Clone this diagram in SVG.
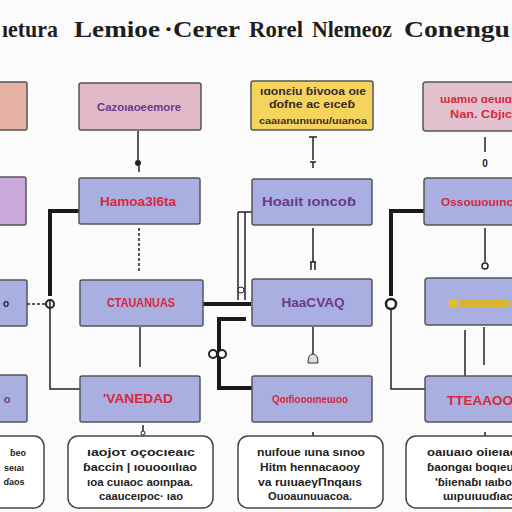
<svg xmlns="http://www.w3.org/2000/svg" width="512" height="512" viewBox="0 0 512 512">
<defs>
<style>
.box{stroke:#555;stroke-width:1.5}
.pink{fill:#e2b9c9}
.salmon{fill:#e6b2a4}
.yellow{fill:#f4d45c}
.rose{fill:#e3c2d0}
.lav{fill:#c9a9da}
.blue{fill:#a9afe0}
.note{fill:#fff;stroke:#444;stroke-width:1.5}
.t{font-family:"Liberation Sans",Arial,sans-serif;font-weight:bold;text-anchor:middle}
.red{fill:#d8283c}
.pur{fill:#6a3a8a}
.dark{fill:#3a2a2a}
.blk{fill:#222}
.ln{stroke:#222;stroke-width:1.5;fill:none}
.thick{stroke:#1a1a1a;stroke-width:4;fill:none}
.title{font-family:"Liberation Serif","Times New Roman",serif;font-weight:bold;font-size:23px;fill:#1e1e1e}
</style>
</defs>
<rect width="512" height="512" fill="#fbfbfb"/>
<g id="title">
<text class="title" x="2" y="37" font-size="18" textLength="56" lengthAdjust="spacingAndGlyphs">ıetura</text>
<text class="title" x="74" y="37" textLength="86" lengthAdjust="spacingAndGlyphs">Lemioe</text>
<text class="title" x="164" y="37" textLength="76" lengthAdjust="spacingAndGlyphs">·Cerer</text>
<text class="title" x="249" y="37" textLength="54" lengthAdjust="spacingAndGlyphs">Rorel</text>
<text class="title" x="312" y="37" font-size="19" textLength="80" lengthAdjust="spacingAndGlyphs">Nlemeoz</text>
<text class="title" x="404" y="37" textLength="106" lengthAdjust="spacingAndGlyphs">Conengu</text>
</g>
<g id="connectors">
<path class="ln" d="M138 131V160"/><circle cx="138" cy="163" r="3" fill="#222"/><path class="ln" d="M139 166V172"/>
<path class="ln" d="M139 228V272" stroke-dasharray="3 2"/>
<path class="thick" d="M80 211H50V296"/>
<path class="ln" d="M50 300V389H80"/>
<path class="ln" d="M27 304H46" stroke-dasharray="3 2"/>
<circle cx="50" cy="304" r="4" fill="none" stroke="#222" stroke-width="2"/>
<path class="ln" d="M140 327V367"/>
<path class="ln" d="M143 425V431"/><circle cx="143" cy="433" r="2" fill="none" stroke="#222"/>
<path class="thick" d="M203 304H251"/>
<path class="ln" d="M238 212V300M245 212V300M238 212H252"/>
<path class="thick" d="M246 319H219V388H252"/>
<circle cx="213" cy="354" r="4" fill="#fff" stroke="#222" stroke-width="2"/>
<circle cx="222" cy="354" r="4" fill="#fff" stroke="#222" stroke-width="2"/>
<circle cx="241" cy="290" r="3" fill="#fff" stroke="#222"/>
<path class="ln" d="M313 137V160M309 137H317"/><path class="ln" d="M310 162H316M313 162V168"/>
<path class="ln" d="M313 228V262M310 262H316M311 262V270M315 262V270"/>
<path class="ln" d="M313 327V355"/><path d="M308 363Q308 354 313 354Q318 354 318 363Z" fill="#ddd" stroke="#333"/>
<path class="ln" d="M313 432V436"/>
<path class="thick" d="M424 211H391V296"/>
<path class="ln" d="M391 300V389H425"/>
<circle cx="391" cy="304" r="5" fill="#fff" stroke="#222" stroke-width="2.5"/>
<path class="ln" d="M485 137V152"/><text x="485" y="167" class="t blk" font-size="10">0</text>
<path class="ln" d="M485 228V262"/><circle cx="485" cy="266" r="3" fill="none" stroke="#222" stroke-width="1.5"/>
<path class="ln" d="M484 327V365"/><path class="ln" d="M465 330V376" stroke="#888"/>
<path class="ln" d="M485 432V436"/>
</g>
<g id="n1a"><rect class="box salmon" x="-5" y="82" width="32" height="48" rx="2"/></g>
<g id="n1b"><rect class="box pink" x="79" y="83" width="122" height="47" rx="2"/><text class="t pur" x="139" y="111" font-size="10" textLength="84" lengthAdjust="spacingAndGlyphs">Cazoıaoeemore</text></g>
<g id="n1c"><rect class="box yellow" x="251" y="81" width="122" height="49" rx="2"/>
<text class="t dark" x="313" y="95" font-size="10" textLength="106" lengthAdjust="spacingAndGlyphs">ıɑonɛiu ɓivooa oıe</text>
<text class="t dark" x="312" y="108" font-size="10" textLength="86" lengthAdjust="spacingAndGlyphs">ɗofne ac eıceɓ</text>
<text class="t dark" x="313" y="124" font-size="9" textLength="108" lengthAdjust="spacingAndGlyphs">caaıanunıunu/uıanoa</text></g>
<g id="n1d"><rect class="box rose" x="423" y="82" width="95" height="49" rx="3"/>
<text class="t red" x="476" y="103" font-size="10" textLength="72" lengthAdjust="spacingAndGlyphs">ɯamıo ɑeuıɑ</text>
<text class="t red" x="481" y="118" font-size="10" textLength="62" lengthAdjust="spacingAndGlyphs">Nan. Cɓjıc</text></g>
<g id="n2a"><rect class="box lav" x="-5" y="177" width="31" height="48" rx="2"/></g>
<g id="n2b"><rect class="box blue" x="79" y="178" width="121" height="46" rx="2"/><text class="t red" x="138" y="206" font-size="12" textLength="76" lengthAdjust="spacingAndGlyphs">Hamoa3l6ta</text></g>
<g id="n2c"><rect class="box blue" x="252" y="179" width="120" height="46" rx="2"/><text class="t pur" x="309" y="206" font-size="12" textLength="94" lengthAdjust="spacingAndGlyphs">Hoaıit ıoncoɓ</text></g>
<g id="n2d"><rect class="box blue" x="424" y="178" width="94" height="47" rx="3"/><text class="t red" x="477" y="206" font-size="11" textLength="72" lengthAdjust="spacingAndGlyphs">Ossoɯouınc</text></g>
<g id="n3a"><rect class="box blue" x="-5" y="280" width="32" height="46" rx="2"/><text class="t blk" x="6" y="307" font-size="10">o</text></g>
<g id="n3b"><rect class="box blue" x="80" y="280" width="123" height="46" rx="2"/><text class="t red" x="141" y="307" font-size="12" textLength="68" lengthAdjust="spacingAndGlyphs">CTAUANUAS</text></g>
<g id="n3c"><rect class="box blue" x="252" y="279" width="120" height="47" rx="2"/><text class="t pur" x="313" y="307" font-size="12" textLength="63" lengthAdjust="spacingAndGlyphs">HaaCVAQ</text></g>
<g id="n3d"><rect class="box blue" x="425" y="278" width="93" height="47" rx="3"/>
<rect x="449" y="300" width="8" height="7" fill="#e8c020"/><rect x="460" y="300" width="50" height="7" fill="#d9b530"/></g>
<g id="n4a"><rect class="box blue" x="-5" y="375" width="32" height="47" rx="2"/><text class="t pur" x="7" y="403" font-size="11">o</text></g>
<g id="n4b"><rect class="box blue" x="80" y="376" width="120" height="46" rx="2"/><text class="t red" x="138" y="403" font-size="12" textLength="70" lengthAdjust="spacingAndGlyphs">'VANEDAD</text></g>
<g id="n4c"><rect class="box blue" x="252" y="376" width="120" height="46" rx="2"/><text class="t red" x="310" y="403" font-size="11" textLength="76" lengthAdjust="spacingAndGlyphs">Qoıfioooıneɯoo</text></g>
<g id="n4d"><rect class="box blue" x="425" y="376" width="93" height="46" rx="3"/><text class="t red" x="480" y="405" font-size="13" textLength="66" lengthAdjust="spacingAndGlyphs">TTEAAOO</text></g>
<g id="n5a"><rect class="note" x="-10" y="436" width="54" height="72" rx="10"/>
<text class="t blk" x="18" y="456" font-size="9">ɓeo</text><text class="t blk" x="14" y="471" font-size="9">seıaı</text><text class="t blk" x="14" y="485" font-size="9">ɗaos</text></g>
<g id="n5b"><rect class="note" x="68" y="436" width="145" height="72" rx="10"/>
<text class="t blk" x="141" y="456" font-size="10" textLength="108" lengthAdjust="spacingAndGlyphs">ıaojoτ oçocıeaıc</text>
<text class="t blk" x="140" y="471" font-size="10" textLength="114" lengthAdjust="spacingAndGlyphs">ɓaccin | ıouooıılıao</text>
<text class="t blk" x="140" y="486" font-size="10" textLength="106" lengthAdjust="spacingAndGlyphs">ıoa cuıaoc aoınpaa.</text>
<text class="t blk" x="141" y="500" font-size="10" textLength="84" lengthAdjust="spacingAndGlyphs">caauceıpoc· ıao</text></g>
<g id="n5c"><rect class="note" x="238" y="436" width="145" height="72" rx="10"/>
<text class="t blk" x="311" y="456" font-size="10" textLength="108" lengthAdjust="spacingAndGlyphs">nuıfoue ıuna sınoo</text>
<text class="t blk" x="310" y="471" font-size="10" textLength="100" lengthAdjust="spacingAndGlyphs">Hitm hennacaooy</text>
<text class="t blk" x="310" y="486" font-size="10" textLength="104" lengthAdjust="spacingAndGlyphs">va ruıuaeγΠnqaııs</text>
<text class="t blk" x="310" y="500" font-size="10" textLength="84" lengthAdjust="spacingAndGlyphs">Ouoaunuuacoa.</text></g>
<g id="n5d"><rect class="note" x="406" y="436" width="120" height="72" rx="10"/>
<text class="t blk" x="472" y="456" font-size="10" textLength="90" lengthAdjust="spacingAndGlyphs">oaıuaıo oiıeıac</text>
<text class="t blk" x="472" y="471" font-size="10" textLength="90" lengthAdjust="spacingAndGlyphs">ɓaongaı boqıeuı</text>
<text class="t blk" x="475" y="486" font-size="10" textLength="80" lengthAdjust="spacingAndGlyphs">'ɓiıenaɓı ıaıboı</text>
<text class="t blk" x="478" y="500" font-size="10" textLength="70" lengthAdjust="spacingAndGlyphs">ɯıpuıuuɗıac</text></g>
</svg>
